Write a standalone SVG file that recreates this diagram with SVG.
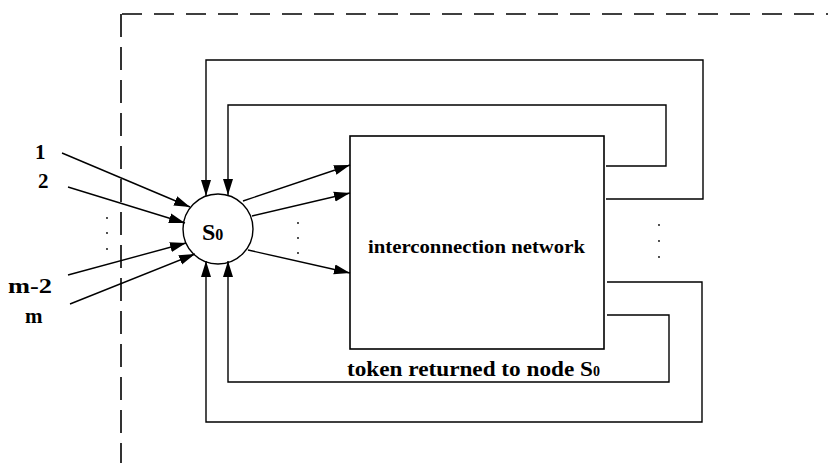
<svg xmlns="http://www.w3.org/2000/svg" width="828" height="463" viewBox="0 0 828 463">
<defs>
<style>
.ln{fill:none;stroke:#000;stroke-width:1.4}
.arr{fill:none;stroke:#000;stroke-width:1.4;marker-end:url(#ah)}
.dash{fill:none;stroke:#000;stroke-width:1.6}
.lbl{font-family:"Liberation Serif","Times New Roman",serif;font-weight:bold;fill:#000}
.dot{fill:#000}
</style>
<marker id="ah" markerUnits="userSpaceOnUse" markerWidth="17" markerHeight="12" viewBox="0 0 17 12" refX="16" refY="6" orient="auto">
<path d="M0,1 L16,6 L0,11 Z" fill="#000"/>
</marker>
</defs>
<rect width="828" height="463" fill="#fff"/>
<g id="boundary">
<path class="dash" d="M122,14 H828" stroke-dasharray="20 12"/>
<path class="dash" d="M121,14 V463" stroke-dasharray="23 10"/>
</g>
<g id="inputs-labels">
<text class="lbl" x="35" y="159" font-size="21">1</text>
<text class="lbl" x="38" y="188" font-size="21">2</text>
<text class="lbl" x="8" y="293" font-size="21" textLength="44" lengthAdjust="spacingAndGlyphs">m-2</text>
<text class="lbl" x="25" y="323" font-size="21">m</text>
</g>
<g id="dots">
<circle class="dot" cx="107" cy="218" r="0.9"/>
<circle class="dot" cx="107" cy="233" r="0.9"/>
<circle class="dot" cx="107" cy="249" r="0.9"/>
<circle class="dot" cx="298" cy="223" r="0.9"/>
<circle class="dot" cx="298" cy="238" r="0.9"/>
<circle class="dot" cx="298" cy="253" r="0.9"/>
<circle class="dot" cx="659" cy="225" r="0.9"/>
<circle class="dot" cx="659" cy="241" r="0.9"/>
<circle class="dot" cx="659" cy="257" r="0.9"/>
</g>
<g id="node-S0">
<circle cx="218" cy="229" r="35" fill="#fff" stroke="#000" stroke-width="1.4"/>
<text class="lbl" x="202" y="240" font-size="24">S<tspan font-size="16">0</tspan></text>
</g>
<g id="node-network">
<rect x="350" y="136" width="254" height="213" fill="#fff" stroke="#000" stroke-width="1.6"/>
<text class="lbl" x="368" y="253" font-size="18" textLength="217" lengthAdjust="spacingAndGlyphs">interconnection  network</text>
</g>
<g id="connectors">
<path class="arr" d="M62,153 L190,207"/>
<path class="arr" d="M68,187 L185,223"/>
<path class="arr" d="M68,275 L186,243"/>
<path class="arr" d="M70,304 L195,254"/>
<path class="arr" d="M243,201 L350,165"/>
<path class="arr" d="M252,216 L350,193"/>
<path class="arr" d="M248,250 L350,273"/>
<path class="arr" d="M606,166 H666 V105 H228 V195"/>
<path class="arr" d="M606,199 H703 V60 H206 V196"/>
<path class="arr" d="M607,315 H669 V382 H228 V261"/>
<path class="arr" d="M607,282 H702 V422 H206 V261"/>
</g>
<g id="caption">
<text class="lbl" x="347" y="376" font-size="20"><tspan textLength="246" lengthAdjust="spacingAndGlyphs">token returned to node S</tspan><tspan font-size="14">0</tspan></text>
</g>
</svg>
